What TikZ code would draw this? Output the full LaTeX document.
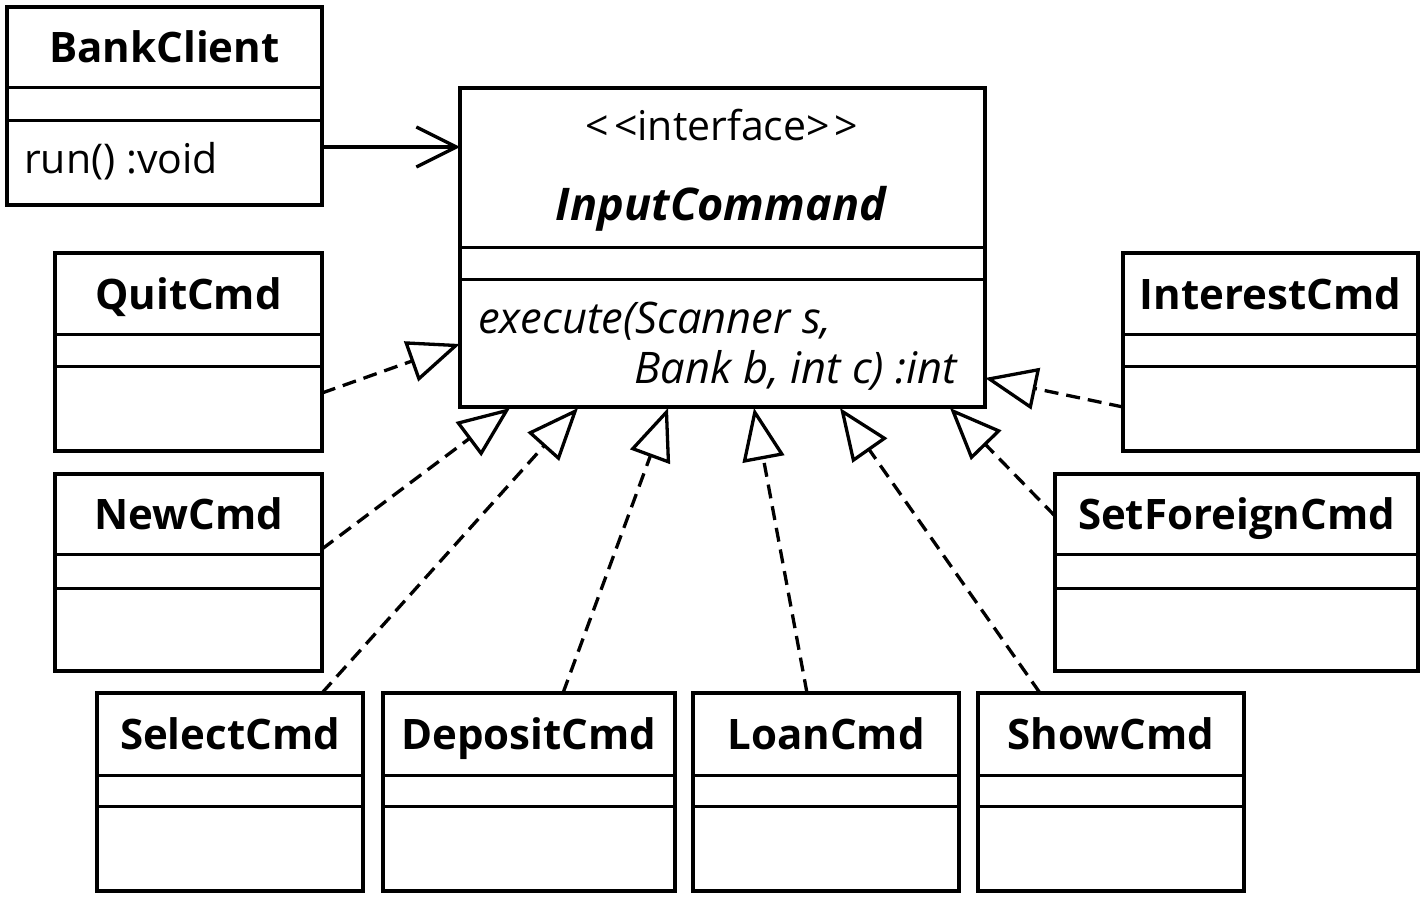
\documentclass[tikz,border=0pt]{standalone}
\usepackage{fontspec}
\setmainfont{Open Sans}
\usetikzlibrary{arrows.meta,fit,calc}
\tikzset{
  box/.style={draw, line width=3.5pt, inner sep=0pt},
  divl/.style={line width=3pt},
  ttl/.style={font=\fontsize{42}{50}\selectfont\bfseries, anchor=base, inner sep=0pt},
  optext/.style={font=\fontsize{41}{48}\selectfont, inner sep=0pt},
  itext/.style={font=\fontsize{43.5}{50}\selectfont\itshape, inner sep=0pt},
  realize/.style={line width=3.3pt, dash pattern=on 14pt off 8pt,
    -{Triangle[open, length=52pt, width=42pt, line width=3.3pt]}},
  assoc/.style={line width=3.3pt, -{Straight Barb[length=40pt, width=40pt, line width=3.3pt]}},
}
\newcommand\umlcls[8]{%
  \coordinate (#1-nw) at (#2,#3);
  \coordinate (#1-se) at (#4,#5);
  \node[box, fit=(#1-nw)(#1-se)] (#1) {};
  \draw[divl] (#2,#6) -- (#4,#6);
  \draw[divl] (#2,#7) -- (#4,#7);
  \node[ttl] (#1-name) at ({(#2+#4)/2},{(#3+#6)/2+15.5}) {#8};
}
\begin{document}
\begin{tikzpicture}[x=1pt,y=-1pt]
\useasboundingbox[fill=white] (0,0) rectangle (1425,899);

% classes
\umlcls{bank}{7}{7}{322}{205}{88}{120}{BankClient}
\node[optext, anchor=base west] (bank-op) at (24,173) {run() :void};

\coordinate (ic-nw) at (460,88);
\coordinate (ic-se) at (985,407);
\node[box, fit=(ic-nw)(ic-se)] (ic) {};
\draw[divl] (460,247) -- (985,247);
\draw[divl] (460,279) -- (985,279);
\node[optext, anchor=base] (ic-st) at (722,140) {<\kern5pt<interface>\kern5pt>};
\node[ttl, font=\fontsize{45}{52}\selectfont\bfseries\itshape] (ic-name) at (721,220) {InputCommand};
\node[itext, anchor=base west] (ic-op1) at (478,333) {execute(Scanner s,};
\node[itext, anchor=base east] (ic-op2) at (957,383) {Bank b, int c) :int};

\umlcls{quit}{55}{253}{322}{451}{334}{366}{QuitCmd}
\umlcls{new}{55}{474}{322}{671}{554}{588}{NewCmd}
\umlcls{interest}{1123}{253}{1418}{451}{334}{366}{InterestCmd}
\umlcls{setf}{1055}{474}{1418}{671}{554}{588}{SetForeignCmd}
\umlcls{select}{97}{693}{363}{891}{775}{806}{SelectCmd}
\umlcls{deposit}{383}{693}{675}{891}{775}{806}{DepositCmd}
\umlcls{loan}{693}{693}{959}{891}{775}{806}{LoanCmd}
\umlcls{show}{978}{693}{1244}{891}{775}{806}{ShowCmd}

% connector end points
\coordinate (bank-out) at (322,147);  \coordinate (ic-in-bank) at (460,147);
\coordinate (quit-out) at (322,393);  \coordinate (ic-in-quit) at (460,344);
\coordinate (new-out) at (322,549);   \coordinate (ic-in-new) at (510,408);
\coordinate (select-out) at (322,693);\coordinate (ic-in-select) at (578,408);
\coordinate (deposit-out) at (563,693);\coordinate (ic-in-deposit) at (668,408);
\coordinate (loan-out) at (807,693);  \coordinate (ic-in-loan) at (754,408);
\coordinate (show-out) at (1040,693); \coordinate (ic-in-show) at (840,408);
\coordinate (setf-out) at (1055,516); \coordinate (ic-in-setf) at (950,408);
\coordinate (interest-out) at (1123,407); \coordinate (ic-in-interest) at (985,378);

\draw[assoc] (bank-out) -- (ic-in-bank);
\draw[realize] (quit-out) -- (ic-in-quit);
\draw[realize] (new-out) -- (ic-in-new);
\draw[realize] (select-out) -- (ic-in-select);
\draw[realize] (deposit-out) -- (ic-in-deposit);
\draw[realize] (loan-out) -- (ic-in-loan);
\draw[realize] (show-out) -- (ic-in-show);
\draw[realize] (setf-out) -- (ic-in-setf);
\draw[realize] (interest-out) -- (ic-in-interest);
\end{tikzpicture}
\end{document}
